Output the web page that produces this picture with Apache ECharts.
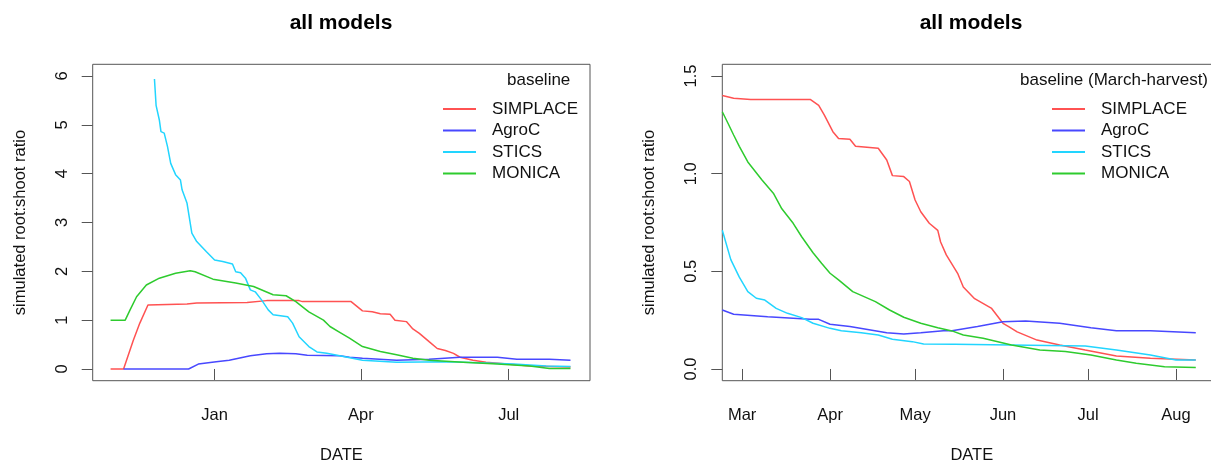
<!DOCTYPE html>
<html>
<head>
<meta charset="utf-8">
<script src="https://cdn.jsdelivr.net/npm/echarts@6/dist/echarts.min.js"></script>
<style>
html,body{margin:0;padding:0;background:#fff;}
#chart{width:1211px;height:464px;}
</style>
</head>
<body>
<div id="chart"></div>
<script>
// ---------- data ----------
const seriesNames = ['SIMPLACE', 'AgroC', 'STICS', 'MONICA'];
const monthNames = ['Jan','Feb','Mar','Apr','May','Jun','Jul','Aug','Sep','Oct','Nov','Dec'];

// Left panel: "baseline"
const leftXTicks = ['2019-01-01', '2019-04-01', '2019-07-01'];
const leftYTicks = [0, 1, 2, 3, 4, 5, 6];

const simplaceLeft = [
  ['2018-10-29',0],['2018-11-06',0],['2018-11-12',0.59],['2018-11-16',0.94],['2018-11-21',1.31],
  ['2018-12-15',1.33],['2018-12-21',1.35],['2019-01-21',1.36],['2019-02-02',1.40],['2019-02-22',1.40],
  ['2019-02-24',1.38],['2019-03-26',1.38],['2019-04-02',1.19],['2019-04-08',1.17],['2019-04-13',1.13],
  ['2019-04-19',1.12],['2019-04-22',1.00],['2019-04-29',0.97],['2019-05-03',0.82],['2019-05-07',0.73],
  ['2019-05-13',0.56],['2019-05-18',0.42],['2019-05-23',0.38],['2019-05-28',0.32],['2019-06-01',0.24],
  ['2019-06-09',0.18],['2019-06-17',0.14],['2019-06-30',0.10],['2019-07-14',0.06],['2019-08-08',0.04]
];
const agrocLeft = [
  ['2018-11-06',0],['2018-12-16',0],['2018-12-22',0.10],['2019-01-02',0.15],['2019-01-10',0.18],
  ['2019-01-23',0.27],['2019-02-02',0.31],['2019-02-10',0.32],['2019-02-20',0.31],['2019-02-27',0.28],
  ['2019-03-19',0.27],['2019-03-25',0.24],['2019-04-02',0.22],['2019-04-23',0.18],['2019-05-13',0.20],
  ['2019-06-01',0.24],['2019-06-24',0.24],['2019-07-06',0.20],['2019-07-26',0.20],['2019-08-08',0.18]
];
const sticsLeft = [
  ['2018-11-25',5.94],['2018-11-26',5.40],['2018-11-28',5.10],['2018-11-29',4.86],['2018-12-01',4.83],
  ['2018-12-03',4.56],['2018-12-05',4.21],['2018-12-08',3.98],['2018-12-11',3.87],['2018-12-12',3.67],
  ['2018-12-15',3.40],['2018-12-18',2.78],['2018-12-21',2.61],['2018-12-27',2.40],['2019-01-01',2.23],
  ['2019-01-06',2.20],['2019-01-12',2.15],['2019-01-14',1.99],['2019-01-17',1.97],['2019-01-20',1.86],
  ['2019-01-23',1.62],['2019-01-26',1.58],['2019-01-30',1.41],['2019-02-03',1.21],['2019-02-06',1.11],
  ['2019-02-15',1.07],['2019-02-18',0.94],['2019-02-22',0.66],['2019-02-28',0.46],['2019-03-05',0.35],
  ['2019-03-11',0.32],['2019-03-19',0.27],['2019-04-02',0.18],['2019-04-23',0.14],['2019-05-24',0.15],
  ['2019-06-13',0.13],['2019-07-04',0.10],['2019-07-24',0.06],['2019-08-08',0.05]
];
const monicaLeft = [
  ['2018-10-29',1.00],['2018-11-07',1.00],['2018-11-10',1.21],['2018-11-14',1.48],['2018-11-20',1.72],
  ['2018-11-28',1.86],['2018-12-08',1.96],['2018-12-17',2.01],['2018-12-20',1.99],['2018-12-31',1.84],
  ['2019-01-14',1.76],['2019-01-25',1.69],['2019-02-06',1.52],['2019-02-14',1.50],['2019-02-20',1.38],
  ['2019-02-28',1.17],['2019-03-09',1.00],['2019-03-13',0.87],['2019-03-19',0.75],['2019-03-25',0.63],
  ['2019-04-02',0.46],['2019-04-13',0.36],['2019-04-23',0.29],['2019-05-03',0.22],['2019-05-13',0.18],
  ['2019-06-03',0.14],['2019-06-24',0.10],['2019-07-14',0.06],['2019-07-26',0.01],['2019-08-08',0.01]
];

// Right panel: "baseline (March-harvest)"
const rightXTicks = ['2019-03-01','2019-04-01','2019-05-01','2019-06-01','2019-07-01','2019-08-01'];
const rightYTicks = [0, 0.5, 1, 1.5];

const simplaceRight = [
  ['2019-02-22',1.40],['2019-02-26',1.386],['2019-03-04',1.38],['2019-03-25',1.38],['2019-03-28',1.35],
  ['2019-03-30',1.30],['2019-04-02',1.215],['2019-04-04',1.18],['2019-04-08',1.176],['2019-04-10',1.14],
  ['2019-04-18',1.13],['2019-04-21',1.07],['2019-04-23',0.99],['2019-04-27',0.985],['2019-04-29',0.96],
  ['2019-05-01',0.865],['2019-05-03',0.805],['2019-05-06',0.746],['2019-05-09',0.71],['2019-05-10',0.65],
  ['2019-05-12',0.584],['2019-05-16',0.49],['2019-05-18',0.42],['2019-05-22',0.36],['2019-05-28',0.31],
  ['2019-06-01',0.234],['2019-06-03',0.217],['2019-06-06',0.19],['2019-06-13',0.148],['2019-06-21',0.123],
  ['2019-06-30',0.097],['2019-07-11',0.067],['2019-07-23',0.055],['2019-08-08',0.046]
];
const agrocRight = [
  ['2019-02-22',0.302],['2019-02-26',0.28],['2019-03-10',0.268],['2019-03-25',0.254],['2019-03-28',0.254],
  ['2019-04-01',0.229],['2019-04-08',0.217],['2019-04-21',0.186],['2019-04-27',0.179],['2019-05-03',0.186],
  ['2019-05-11',0.196],['2019-05-14',0.196],['2019-05-23',0.217],['2019-06-01',0.242],['2019-06-09',0.246],
  ['2019-06-21',0.234],['2019-07-02',0.211],['2019-07-11',0.196],['2019-07-23',0.196],['2019-08-08',0.186]
];
const sticsRight = [
  ['2019-02-22',0.71],['2019-02-25',0.56],['2019-02-28',0.47],['2019-03-03',0.396],['2019-03-06',0.362],
  ['2019-03-09',0.353],['2019-03-13',0.31],['2019-03-17',0.285],['2019-03-22',0.263],['2019-03-26',0.234],
  ['2019-04-01',0.208],['2019-04-05',0.196],['2019-04-12',0.186],['2019-04-18',0.174],['2019-04-23',0.152],
  ['2019-04-30',0.14],['2019-05-04',0.128],['2019-05-15',0.126],['2019-06-30',0.118],['2019-07-11',0.097],
  ['2019-07-23',0.072],['2019-08-01',0.046],['2019-08-08',0.046]
];
const monicaRight = [
  ['2019-02-22',1.317],['2019-02-24',1.258],['2019-02-26',1.198],['2019-02-28',1.14],['2019-03-03',1.06],
  ['2019-03-08',0.968],['2019-03-12',0.90],['2019-03-15',0.82],['2019-03-19',0.746],['2019-03-22',0.677],
  ['2019-03-26',0.595],['2019-03-29',0.541],['2019-04-01',0.49],['2019-04-04',0.456],['2019-04-09',0.396],
  ['2019-04-17',0.345],['2019-04-22',0.302],['2019-04-27',0.265],['2019-05-03',0.234],['2019-05-09',0.211],
  ['2019-05-14',0.195],['2019-05-18',0.174],['2019-05-25',0.157],['2019-06-04',0.123],['2019-06-14',0.097],
  ['2019-06-23',0.089],['2019-07-02',0.072],['2019-07-11',0.046],['2019-07-18',0.029],['2019-07-28',0.012],
  ['2019-08-08',0.007]
];

// ---------- chart ----------
const colors = ['#ff5252', '#4848ff', '#22d5ff', '#2ecb2e'];
const FONT = '"Liberation Sans", Arial, sans-serif';
const ts = s => Date.UTC(+s.slice(0, 4), +s.slice(5, 7) - 1, +s.slice(8, 10));
const toXY = arr => arr.map(p => [ts(p[0]), p[1]]);
const monthLabel = v => monthNames[new Date(v).getUTCMonth()];

const leftData = [simplaceLeft, agrocLeft, sticsLeft, monicaLeft];
const rightData = [simplaceRight, agrocRight, sticsRight, monicaRight];

function xAxisCfg(gridIndex, minD, maxD, ticks) {
  const vals = ticks.map(ts);
  return {
    type: 'value', gridIndex: gridIndex, min: ts(minD), max: ts(maxD),
    name: 'DATE', nameLocation: 'middle', nameGap: 66,
    nameTextStyle: { fontSize: 16.5, color: '#111', fontFamily: FONT },
    axisLine: { show: false },
    axisTick: { show: true, inside: false, length: 11, customValues: vals, lineStyle: { color: '#555', width: 1 } },
    axisLabel: { show: true, customValues: vals, margin: 26, formatter: monthLabel,
      fontSize: 16.5, color: '#111', fontFamily: FONT },
    splitLine: { show: false }
  };
}
function yAxisCfg(gridIndex, min, max, ticks, fmt) {
  return {
    type: 'value', gridIndex: gridIndex, min: min, max: max,
    name: 'simulated root:shoot ratio', nameLocation: 'middle', nameGap: 64,
    nameTextStyle: { fontSize: 16.5, color: '#111', fontFamily: FONT },
    axisLine: { show: false },
    axisTick: { show: true, inside: false, length: 11, customValues: ticks, lineStyle: { color: '#555', width: 1 } },
    axisLabel: { show: true, customValues: ticks, rotate: 90, margin: 22, formatter: fmt,
      fontSize: 16.5, color: '#111', fontFamily: FONT },
    splitLine: { show: false }
  };
}

const series = [];
[leftData, rightData].forEach((panel, gi) => {
  panel.forEach((arr, si) => {
    series.push({
      name: seriesNames[si], type: 'line', xAxisIndex: gi, yAxisIndex: gi,
      data: toXY(arr), symbol: 'none', showSymbol: false, clip: true,
      lineStyle: { color: colors[si], width: 1.5 }, itemStyle: { color: colors[si] },
      emphasis: { disabled: true }, z: 2 + si
    });
  });
});

function legendCfg(left) {
  return {
    orient: 'vertical', left: left, top: 100.5, padding: 0, itemGap: 4.5,
    itemWidth: 33, itemHeight: 2, selectedMode: false, icon: 'rect',
    data: seriesNames,
    textStyle: { fontSize: 17, color: '#111', fontFamily: FONT, lineHeight: 17, padding: [0, 0, 0, 11] }
  };
}

const chart = echarts.init(document.getElementById('chart'), null, { renderer: 'canvas' });
chart.setOption({
  animation: false,
  backgroundColor: '#ffffff',
  color: colors,
  title: [
    { text: 'all models', left: 341, top: 13, textAlign: 'center', padding: 0,
      textStyle: { fontSize: 21, fontWeight: 'bold', color: '#000', fontFamily: FONT } },
    { text: 'all models', left: 971, top: 13, textAlign: 'center', padding: 0,
      textStyle: { fontSize: 21, fontWeight: 'bold', color: '#000', fontFamily: FONT } }
  ],
  legend: [legendCfg(443), legendCfg(1052)],
  grid: [
    { left: 92.7, top: 64.3, width: 497.3, height: 316.4, show: true, borderColor: '#555', borderWidth: 1,
      backgroundColor: 'transparent', containLabel: false, outerBoundsMode: 'none' },
    { left: 722.3, top: 64.3, width: 499, height: 316.4, show: true, borderColor: '#555', borderWidth: 1,
      backgroundColor: 'transparent', containLabel: false, outerBoundsMode: 'none' }
  ],
  xAxis: [
    xAxisCfg(0, '2018-10-18', '2019-08-20', leftXTicks),
    xAxisCfg(1, '2019-02-22', '2019-08-17', rightXTicks)
  ],
  yAxis: [
    yAxisCfg(0, -0.24, 6.24, leftYTicks, v => String(v)),
    yAxisCfg(1, -0.06, 1.56, rightYTicks, v => v.toFixed(1))
  ],
  graphic: [
    { type: 'text', left: 507, top: 72, style: { text: 'baseline', fontSize: 17, fill: '#111', fontFamily: FONT, textAlign: 'center' } },
    { type: 'text', left: 1020, top: 72, style: { text: 'baseline (March-harvest)', fontSize: 17, fill: '#111', fontFamily: FONT } }
  ],
  series: series
});
</script>
</body>
</html>
